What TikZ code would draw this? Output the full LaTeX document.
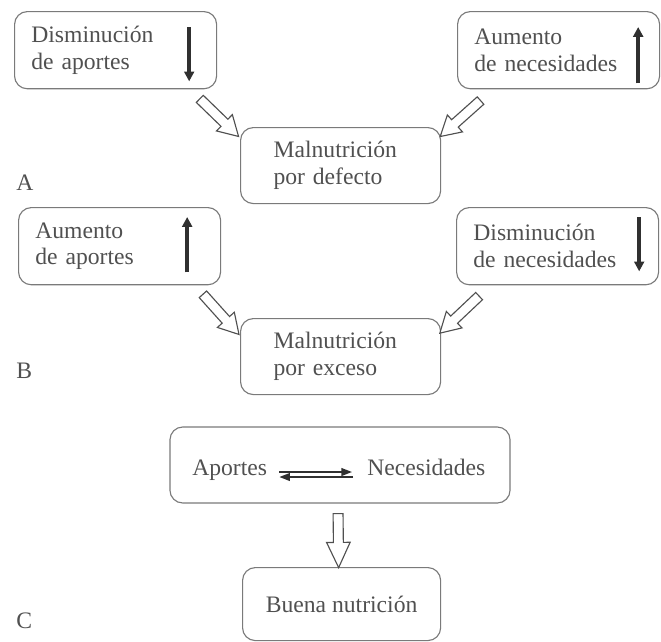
\documentclass[tikz,border=0pt]{standalone}
\usepackage{fontspec}
\setmainfont{Liberation Serif}
\usetikzlibrary{shapes.arrows,arrows.meta}
\definecolor{txtgray}{HTML}{505050}
\definecolor{linegray}{HTML}{7A7A7A}
\definecolor{arrgray}{HTML}{303030}
\begin{document}
\begin{tikzpicture}[x=0.025cm,y=-0.025cm,>=latex,
  font=\fontsize{16.8}{19}\selectfont, text=txtgray,
  rbox/.style={draw=linegray, line width=0.8pt, rounded corners=0.32cm},
  sidebox/.style={rbox, anchor=north west, minimum height=1.93cm, text width=4.21cm, inner xsep=0.42cm, align=left},
  malbox/.style={rbox, anchor=north west, minimum height=1.9cm, text width=3.35cm, inner xsep=0.825cm, align=left},
  trend/.style={draw=arrgray, line width=3.2pt, -{Triangle[length=7pt,width=7pt]}},
  swap/.style={draw=arrgray, line width=1.2pt, -{Triangle[length=7.5pt,width=5.5pt]}},
  bigarrow/.style={single arrow, draw=txtgray, fill=white, line width=0.8pt, inner sep=0pt, inner ysep=0.11cm,
    single arrow head extend=0.16cm, single arrow tip angle=60, minimum height=1.35cm, sloped, allow upside down},
  lbl/.style={anchor=base west, inner sep=0pt}]
\useasboundingbox (0,0) rectangle (661,641);

% A: por defecto
\node[sidebox] (dapor) at (14,11) {Disminución\\de aportes};
\node[sidebox] (anec) at (457,11) {Aumento\\de necesidades};
\node[malbox] (mdef) at (240,127) {Malnutrición\\por defecto};
\node[lbl] (la) at (16,190) {A};
\draw[trend] ([shift={(-28,16)}]dapor.north east) -- ([shift={(-28,-8)}]dapor.south east);
\draw[trend] ([shift={(-22,-6)}]anec.south east) -- ([shift={(-22,16)}]anec.north east);
\path ([shift={(-20,7)}]dapor.south east) -- node[bigarrow] {} ([shift={(-5,6)}]mdef.north west);
\path ([shift={(26,9)}]anec.south west) -- node[bigarrow] {} ([shift={(3,6)}]mdef.north east);

% B: por exceso
\node[sidebox] (aapo) at (18,207) {Aumento\\de aportes};
\node[sidebox] (dnec) at (456,207) {Disminución\\de necesidades};
\node[malbox] (mexc) at (240,318) {Malnutrición\\por exceso};
\node[lbl] (lb) at (16,378) {B};
\draw[trend] ([shift={(-34,-13)}]aapo.south east) -- ([shift={(-34,10)}]aapo.north east);
\draw[trend] ([shift={(-20,10)}]dnec.north east) -- ([shift={(-20,-14)}]dnec.south east);
\path ([shift={(-20,7)}]aapo.south east) -- node[bigarrow] {} ([shift={(-5,12)}]mexc.north west);
\path ([shift={(26,8)}]dnec.south west) -- node[bigarrow] {} ([shift={(2,12)}]mexc.north east);

% C: equilibrio
\node[rbox, minimum width=8.5cm, minimum height=1.9cm] (bal) at (340,465) {};
\node[lbl] (apo) at (192,475) {Aportes};
\node[lbl] (nec) at (367,475) {Necesidades};
\draw[swap] ([shift={(12,-3)}]apo.base east) -- ([shift={(-15,-3)}]nec.base west);
\draw[swap] ([shift={(-14,2)}]nec.base west) -- ([shift={(12,2)}]apo.base east);
\node[rbox, anchor=north west, minimum width=4.95cm, minimum height=1.825cm] (buena) at (242,567) {Buena nutrición};
\node[lbl] (lc) at (16,628) {C};
\path ([shift={(-2,5)}]bal.south) -- node[bigarrow, single arrow head extend=0.17cm, single arrow tip angle=50] {} ([shift={(-3,-5)}]buena.north);
\end{tikzpicture}
\end{document}
